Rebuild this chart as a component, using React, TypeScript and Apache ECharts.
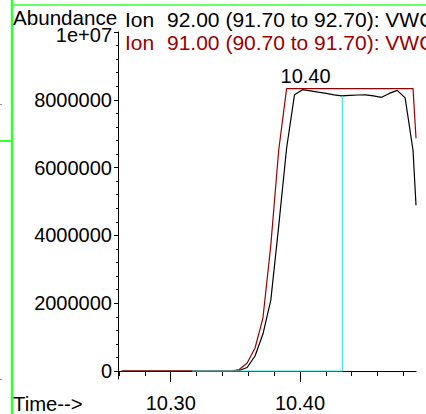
import React, { useEffect, useRef } from "react";
import * as echarts from "echarts";

// Scan times (min) and abundances (trace visible up to the axis end)
const scanTimes = [
  10.2621, 10.3469, 10.353, 10.3591, 10.3652, 10.3713, 10.3774, 10.3835, 10.3896,
  10.3957, 10.4019, 10.408, 10.4141, 10.4202, 10.4263, 10.4324, 10.4385, 10.4446,
  10.4507, 10.4568, 10.463, 10.4691, 10.4752, 10.4813, 10.4874, 10.4897,
];
const ion92 = [
  0, 0, 15000, 103000, 442000, 1090000, 2092000, 4272000, 6570000,
  8147000, 8300000, 8265000, 8226000, 8191000, 8147000, 8117000, 8132000, 8141000,
  8147000, 8117000, 8073000, 8188000, 8279000, 8058000, 6511000, 4891000,
];
const ion91 = [
  0, 0, 44000, 236000, 678000, 1562000, 3712000, 6511000, 8330000,
  8330000, 8330000, 8330000, 8330000, 8330000, 8330000, 8330000, 8330000, 8330000,
  8330000, 8330000, 8330000, 8330000, 8330000, 8330000, 8330000, 6865000,
];
const baselineTimes = [10.3165, 10.4327, 10.4327];
const baselineValues = [0, 0, 8103000];

const peakLabel = "10.40";
const peakTime = 10.4043;
const peakLabelValue = 8690000;

const xMajorTicks = [10.3, 10.4];
const xMinorTicks = [10.26, 10.28, 10.32, 10.34, 10.36, 10.38, 10.42, 10.44, 10.46, 10.48];
const yMajorTicks = [0, 2000000, 4000000, 6000000, 8000000, 10000000];
const yMinorTicks = [
  400000, 800000, 1200000, 1600000, 2400000, 2800000, 3200000, 3600000,
  4400000, 4800000, 5200000, 5600000, 6400000, 6800000, 7200000, 7600000,
  8400000, 8800000, 9200000, 9600000,
];

const legend92 = ["Ion", "92.00 (91.70 to 92.70): VWC"];
const legend91 = ["Ion", "91.00 (90.70 to 91.70): VWC"];

const FONT = '"Liberation Sans", Arial, sans-serif';
const RED = "#990000";
const CYAN = "#3de6e6";
const GREEN = "#33ff33";

const xMin = 10.2592;
const xMax = 10.4897;
const yMin = -236000;
const yMax = 10000000;

function zip(xs: number[], ys: number[]) {
  return xs.map((x, i) => [x, ys[i]]);
}

function txt(x: number, y: number, text: string, fill: string, size: number) {
  return {
    type: "text",
    x,
    y,
    z: 10,
    style: {
      text,
      fill,
      font: `${size}px ${FONT}`,
      lineHeight: 14,
      align: "left",
      textAlign: "left",
      verticalAlign: "middle",
      textVerticalAlign: "middle",
    },
  };
}

export default function App() {
  const ref = useRef<HTMLDivElement>(null);
  useEffect(() => {
    document.body.style.margin = "0";
    const chart = echarts.init(ref.current!, undefined, { renderer: "svg" });
    const axisCommon = {
      type: "value",
      splitLine: { show: false },
    };
    chart.setOption({
      animation: false,
      backgroundColor: "#ffffff",
      grid: { left: 118, top: 32, width: 298, height: 347, containLabel: false },
      xAxis: [
        {
          ...axisCommon,
          min: xMin,
          max: xMax,
          position: "bottom",
          axisLine: { show: true, lineStyle: { color: "#000", width: 1 } },
          axisTick: { show: true, customValues: xMajorTicks, length: 11, lineStyle: { color: "#000" } },
          axisLabel: {
            customValues: xMajorTicks,
            formatter: (v: number) => v.toFixed(2),
            margin: 14,
            color: "#000",
            fontSize: 20,
            fontFamily: FONT,
          },
        },
        {
          ...axisCommon,
          min: xMin,
          max: xMax,
          position: "bottom",
          axisLine: { show: false },
          axisTick: { show: true, customValues: xMinorTicks, length: 5, lineStyle: { color: "#000" } },
          axisLabel: { show: false },
        },
      ],
      yAxis: [
        {
          ...axisCommon,
          min: yMin,
          max: yMax,
          position: "left",
          axisLine: { show: true, lineStyle: { color: "#000", width: 1 } },
          axisTick: { show: true, customValues: yMajorTicks, length: 4, lineStyle: { color: "#000" } },
          axisLabel: {
            customValues: yMajorTicks,
            formatter: (v: number) => (v >= 10000000 ? "{t|1e+07}" : String(v)),
            margin: 6,
            color: "#000",
            fontSize: 20,
            lineHeight: 14,
            fontFamily: FONT,
            rich: {
              t: {
                fontSize: 20,
                lineHeight: 14,
                fontFamily: FONT,
                color: "#000",
                padding: [5, 0, 0, 0],
              },
            },
          },
        },
        {
          ...axisCommon,
          min: yMin,
          max: yMax,
          position: "left",
          axisLine: { show: false },
          axisTick: { show: true, customValues: yMinorTicks, length: 2, lineStyle: { color: "#000" } },
          axisLabel: { show: false },
        },
      ],
      series: [
        {
          type: "line",
          name: "Ion 92.00",
          data: zip(scanTimes, ion92),
          symbol: "none",
          lineStyle: { color: "#000", width: 1.2 },
          z: 2,
          markPoint: {
            symbol: "rect",
            symbolSize: 1,
            itemStyle: { color: "rgba(0,0,0,0)" },
            label: {
              show: true,
              position: "inside",
              formatter: peakLabel,
              color: "#000",
              fontSize: 20,
              fontFamily: FONT,
            },
            data: [{ coord: [peakTime, peakLabelValue] }],
          },
        },
        {
          type: "line",
          name: "Ion 91.00",
          data: zip(scanTimes, ion91),
          symbol: "none",
          lineStyle: { color: RED, width: 1.2 },
          z: 3,
        },
        {
          type: "line",
          name: "baseline",
          data: zip(baselineTimes, baselineValues),
          symbol: "none",
          lineStyle: { color: CYAN, width: 1.2 },
          z: 4,
        },
      ],
      graphic: [
        { type: "line", shape: { x1: 12, y1: 0, x2: 12, y2: 414 }, style: { stroke: GREEN, lineWidth: 2.5 } },
        { type: "line", shape: { x1: 11, y1: 5, x2: 426, y2: 5 }, style: { stroke: GREEN, lineWidth: 1.5 } },
        { type: "line", shape: { x1: 0, y1: 141, x2: 11, y2: 141 }, style: { stroke: GREEN, lineWidth: 2 } },
        { type: "rect", shape: { x: 0, y: 104, width: 2, height: 1 }, style: { fill: "#999" } },
        { type: "rect", shape: { x: 0, y: 379, width: 2, height: 1 }, style: { fill: "#999" } },
        txt(13, 17, "Abundance", "#000", 20.6),
        txt(125, 19, legend92[0], "#000", 21),
        txt(167, 19, legend92[1], "#000", 21),
        txt(125, 42, legend91[0], RED, 21),
        txt(167, 42, legend91[1], RED, 21),
        txt(13, 404, "Time-->", "#000", 20.3),
      ],
    });
    return () => chart.dispose();
  }, []);
  return (
    <div
      ref={ref}
      style={{ position: "absolute", left: 0, top: 0, width: 426, height: 414 }}
    />
  );
}
